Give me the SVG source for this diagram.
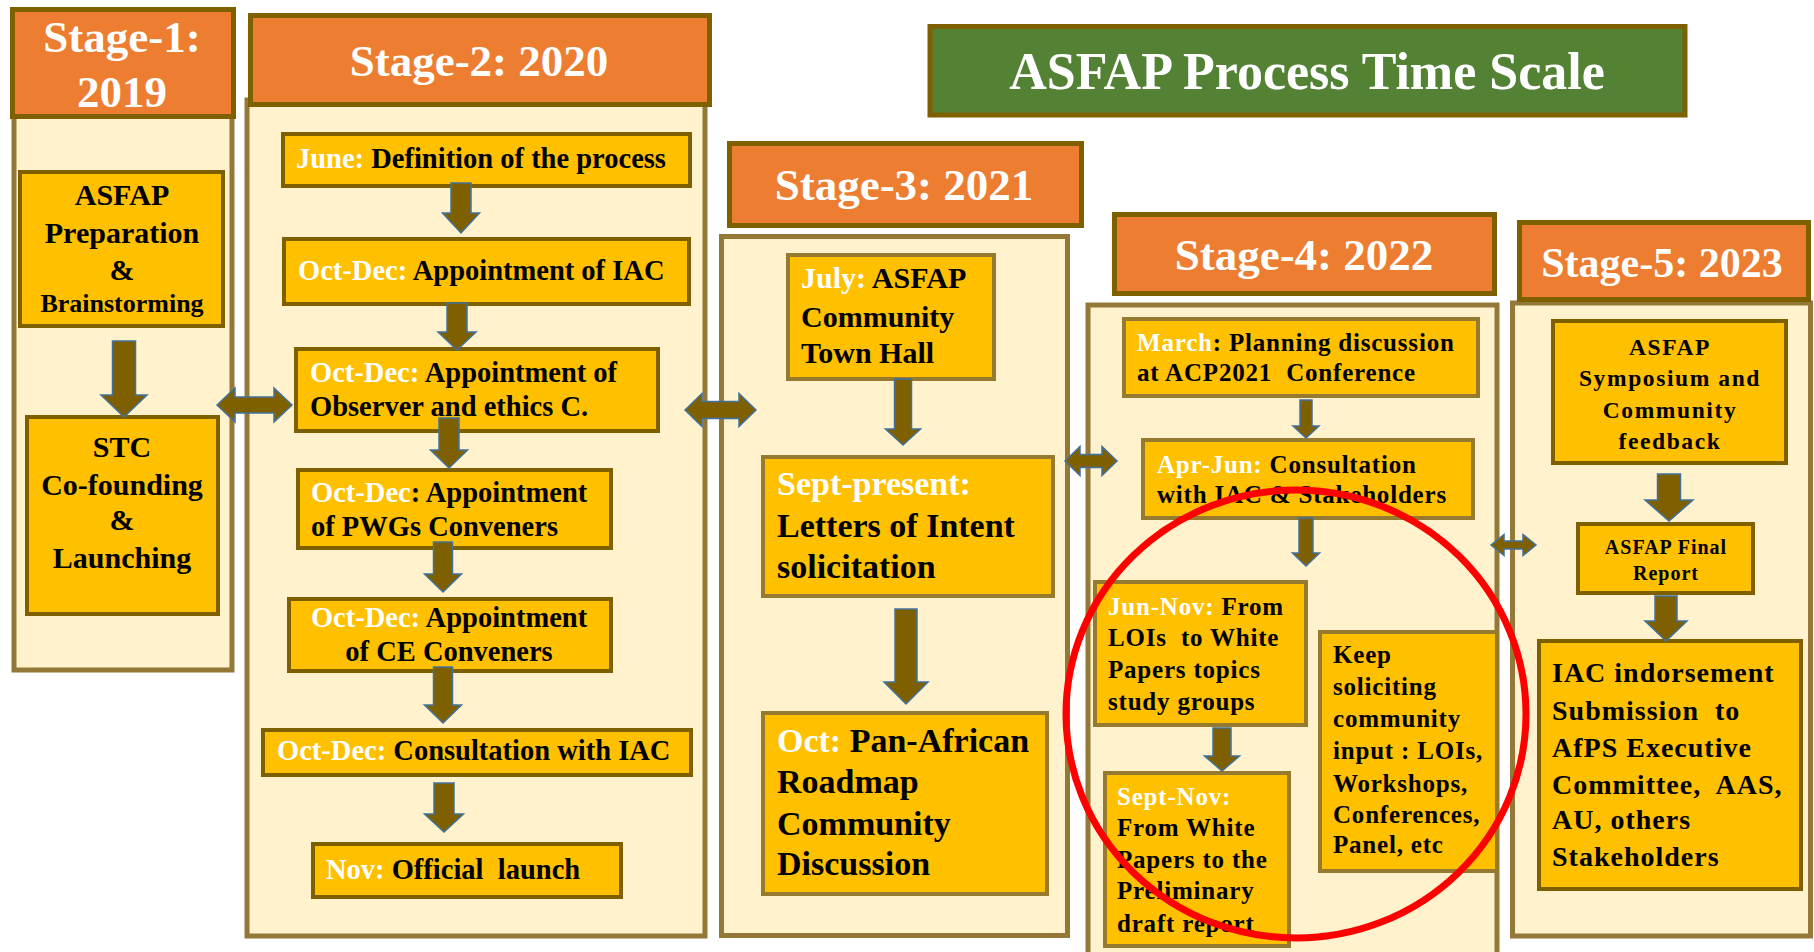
<svg xmlns="http://www.w3.org/2000/svg" width="1814" height="952" viewBox="0 0 1814 952">
<style>
.hdr{fill:#ED7D31;stroke:#7F6000;stroke-width:5}
.body{fill:#FFF2CC;stroke:#937838;stroke-width:5}
.box{fill:#FFC000;stroke:#7F6000;stroke-width:4}
.box2{fill:#FFC000;stroke:#957A30;stroke-width:4}
.ttl{fill:#548235;stroke:#7F6000;stroke-width:5}
.arr{fill:#7F6000;stroke:#41719C;stroke-width:1.5}
text{font-family:"Liberation Serif","Times New Roman",serif;font-weight:bold;fill:#000}
.w{fill:#FFFFFF}
.h{font-size:45px;fill:#FFFFFF;text-anchor:middle}
.s1{font-size:30px;text-anchor:middle}
.s2{font-size:28.5px}
.s3a{font-size:30px}
.s3b{font-size:34px}
.s4{font-size:25px;letter-spacing:0.8px}
.s5a{font-size:23.5px;letter-spacing:1.6px;text-anchor:middle}
.s5b{font-size:20px;letter-spacing:1px;text-anchor:middle}
.s5c{font-size:28px;letter-spacing:1px}
</style>
<rect width="1814" height="952" fill="#FFFFFF"/>

<!-- Stage bodies -->
<g id="stage1">
<rect class="body" x="14" y="110" width="218" height="560" stroke-width="4"/>
<rect class="hdr" x="12.5" y="9.5" width="221" height="107"/>
<text class="h" x="122" y="52">Stage-1:</text>
<text class="h" x="122" y="107">2019</text>
</g>
<g id="stage2">
<rect class="body" x="247" y="100" width="458" height="836" stroke-width="6"/>
<rect class="hdr" x="250.5" y="15.5" width="459" height="89"/>
<text class="h" x="479" y="76">Stage-2: 2020</text>
</g>
<g id="stage3">
<rect class="body" x="721.5" y="236.5" width="346" height="699"/>
<rect class="hdr" x="729.5" y="143.5" width="352" height="82"/>
<text class="h" x="904" y="200">Stage-3: 2021</text>
</g>
<g id="stage4">
<rect class="body" x="1088" y="305" width="409" height="660"/>
<rect class="hdr" x="1114.5" y="214.5" width="380" height="79"/>
<text class="h" x="1304" y="270">Stage-4: 2022</text>
</g>
<g id="stage5">
<rect class="body" x="1512.5" y="303" width="298" height="633"/>
<rect class="hdr" x="1519.5" y="222.5" width="289" height="77"/>
<text class="h" x="1662" y="277" style="font-size:42px">Stage-5: 2023</text>
</g>
<g id="title">
<rect class="ttl" x="930" y="26.5" width="755" height="88.5"/>
<text x="1307" y="89" style="font-size:52px;fill:#FFFFFF;text-anchor:middle">ASFAP Process Time Scale</text>
</g>

<!-- Stage 1 nodes -->
<g id="n-prep">
<rect class="box" x="20" y="172" width="203" height="154"/>
<text class="s1" x="122" y="205">ASFAP</text>
<text class="s1" x="122" y="243">Preparation</text>
<text class="s1" x="122" y="280">&amp;</text>
<text class="s1" x="122" y="312" style="font-size:26px">Brainstorming</text>
</g>
<g id="n-stc">
<rect class="box" x="27" y="417" width="191" height="197"/>
<text class="s1" x="122" y="457">STC</text>
<text class="s1" x="122" y="495">Co-founding</text>
<text class="s1" x="122" y="530">&amp;</text>
<text class="s1" x="122" y="568">Launching</text>
</g>

<!-- Stage 2 nodes -->
<g id="n-june">
<rect class="box" x="283" y="134" width="407" height="52"/>
<text class="s2" x="296" y="168"><tspan class="w">June:</tspan> Definition of the process</text>
</g>
<g id="n-iac">
<rect class="box" x="284" y="239" width="405" height="65"/>
<text class="s2" x="298" y="280"><tspan class="w">Oct-Dec:</tspan> Appointment of IAC</text>
</g>
<g id="n-observer">
<rect class="box" x="296" y="349" width="362" height="82"/>
<text class="s2" x="310" y="382"><tspan class="w">Oct-Dec:</tspan> Appointment of</text>
<text class="s2" x="310" y="416">Observer and ethics C.</text>
</g>
<g id="n-pwgs">
<rect class="box" x="298" y="470" width="313" height="78"/>
<text class="s2" x="311" y="502"><tspan class="w">Oct-Dec</tspan>: Appointment</text>
<text class="s2" x="311" y="536">of PWGs Conveners</text>
</g>
<g id="n-ce">
<rect class="box" x="289" y="599" width="322" height="72"/>
<text class="s2" x="449" y="627" text-anchor="middle"><tspan class="w">Oct-Dec:</tspan> Appointment</text>
<text class="s2" x="449" y="661" text-anchor="middle">of CE Conveners</text>
</g>
<g id="n-consult">
<rect class="box" x="263" y="730" width="428" height="45"/>
<text class="s2" x="277" y="760"><tspan class="w">Oct-Dec:</tspan> Consultation with IAC</text>
</g>
<g id="n-nov">
<rect class="box" x="313" y="844" width="308" height="53"/>
<text class="s2" x="326" y="879" xml:space="preserve"><tspan class="w">Nov:</tspan> Official  launch</text>
</g>

<!-- Stage 3 nodes -->
<g id="n-july">
<rect class="box2" x="788" y="255" width="206" height="124"/>
<text class="s3a" x="801" y="288"><tspan class="w">July:</tspan> ASFAP</text>
<text class="s3a" x="801" y="327">Community</text>
<text class="s3a" x="801" y="363">Town Hall</text>
</g>
<g id="n-sept">
<rect class="box2" x="763" y="457" width="290" height="139"/>
<text class="s3b w" x="777" y="495">Sept-present:</text>
<text class="s3b" x="777" y="537">Letters of Intent</text>
<text class="s3b" x="777" y="578">solicitation</text>
</g>
<g id="n-oct">
<rect class="box2" x="763" y="713" width="284" height="181"/>
<text class="s3b" x="777" y="752"><tspan class="w">Oct:</tspan> Pan-African</text>
<text class="s3b" x="777" y="793">Roadmap</text>
<text class="s3b" x="777" y="835">Community</text>
<text class="s3b" x="777" y="875">Discussion</text>
</g>

<!-- Stage 4 nodes -->
<g id="n-march">
<rect class="box2" x="1124" y="319" width="354" height="77"/>
<text class="s4" x="1137" y="351"><tspan class="w">March</tspan>: Planning discussion</text>
<text class="s4" x="1137" y="381" xml:space="preserve">at ACP2021  Conference</text>
</g>
<g id="n-aprjun">
<rect class="box2" x="1143" y="440" width="330" height="78"/>
<text class="s4" x="1157" y="473"><tspan class="w">Apr-Jun:</tspan> Consultation</text>
<text class="s4" x="1157" y="503">with IAC &amp; Stakeholders</text>
</g>
<g id="n-junnov">
<rect class="box2" x="1095" y="582" width="211" height="143"/>
<text class="s4" x="1108" y="615"><tspan class="w">Jun-Nov:</tspan> From</text>
<text class="s4" x="1108" y="646" xml:space="preserve">LOIs  to White</text>
<text class="s4" x="1108" y="678">Papers topics</text>
<text class="s4" x="1108" y="710">study groups</text>
</g>
<g id="n-septnov">
<rect class="box2" x="1105" y="773" width="184" height="173"/>
<text class="s4 w" x="1117" y="805">Sept-Nov:</text>
<text class="s4" x="1117" y="836">From White</text>
<text class="s4" x="1117" y="868">Papers to the</text>
<text class="s4" x="1117" y="899">Preliminary</text>
<text class="s4" x="1117" y="932">draft report</text>
</g>
<g id="n-keep">
<rect class="box2" x="1320" y="632" width="177" height="239"/>
<text class="s4" x="1333" y="663">Keep</text>
<text class="s4" x="1333" y="695">soliciting</text>
<text class="s4" x="1333" y="727">community</text>
<text class="s4" x="1333" y="759">input : LOIs,</text>
<text class="s4" x="1333" y="792">Workshops,</text>
<text class="s4" x="1333" y="823">Conferences,</text>
<text class="s4" x="1333" y="853">Panel, etc</text>
</g>

<!-- Stage 5 nodes -->
<g id="n-symposium">
<rect class="box" x="1553" y="321" width="233" height="142"/>
<text class="s5a" x="1670" y="355">ASFAP</text>
<text class="s5a" x="1670" y="386">Symposium and</text>
<text class="s5a" x="1670" y="418">Community</text>
<text class="s5a" x="1670" y="449">feedback</text>
</g>
<g id="n-final">
<rect class="box" x="1578" y="524" width="175" height="69"/>
<text class="s5b" x="1666" y="554">ASFAP Final</text>
<text class="s5b" x="1666" y="580">Report</text>
</g>
<g id="n-endorse">
<rect class="box" x="1539" y="641" width="262" height="248"/>
<text class="s5c" x="1552" y="682">IAC indorsement</text>
<text class="s5c" x="1552" y="720" xml:space="preserve">Submission  to</text>
<text class="s5c" x="1552" y="757">AfPS Executive</text>
<text class="s5c" x="1552" y="794" xml:space="preserve">Committee,  AAS,</text>
<text class="s5c" x="1552" y="829">AU, others</text>
<text class="s5c" x="1552" y="866">Stakeholders</text>
</g>

<!-- Connectors -->
<g id="connectors">
<!-- stage 1 -->
<polygon class="arr" points="112.5,341 135.5,341 135.5,395 147,395 124,417 101,395 112.5,395"/>
<!-- stage 2 -->
<polygon class="arr" points="451,183 471,183 471,213 479.5,213 461,233 442.5,213 451,213"/>
<polygon class="arr" points="447,303 467,303 467,332 476,332 457,350 438,332 447,332"/>
<polygon class="arr" points="439,418 459,418 459,450 467.5,450 449,468 430.5,450 439,450"/>
<polygon class="arr" points="433.5,542 452.5,542 452.5,574 461.5,574 443,592 424.5,574 433.5,574"/>
<polygon class="arr" points="433.5,667 452.5,667 452.5,705 461.5,705 443,723 424.5,705 433.5,705"/>
<polygon class="arr" points="434,783 454,783 454,814 463.5,814 444,832 424.5,814 434,814"/>
<!-- stage 3 -->
<polygon class="arr" points="894.5,379 911.5,379 911.5,429 920.5,429 903,445 885.5,429 894.5,429"/>
<polygon class="arr" points="895,609 917,609 917,682 928,682 906,704 884,682 895,682"/>
<!-- stage 4 -->
<polygon class="arr" points="1300,400 1312,400 1312,426 1319,426 1306,438 1293,426 1300,426"/>
<polygon class="arr" points="1299,518 1313,518 1313,553 1319.5,553 1306,566 1292.5,553 1299,553"/>
<polygon class="arr" points="1213,728 1231,728 1231,756 1239.5,756 1222,771 1204.5,756 1213,756"/>
<!-- stage 5 -->
<polygon class="arr" points="1657.5,474 1680.5,474 1680.5,500 1693,500 1669,521 1645,500 1657.5,500"/>
<polygon class="arr" points="1655,596 1677,596 1677,621 1687,621 1666,641 1645,621 1655,621"/>
<!-- between stages -->
<polygon class="arr" points="217,405 235,388 235,397 274,397 274,388 292,405 274,422 274,413 235,413 235,422"/>
<polygon class="arr" points="685,410 702,393.5 702,401.5 739,401.5 739,393.5 756,410 739,426.5 739,418.5 702,418.5 702,426.5"/>
<polygon class="arr" points="1065,461 1080,446.5 1080,454.5 1102,454.5 1102,446.5 1117,461 1102,475.5 1102,467.5 1080,467.5 1080,475.5"/>
<polygon class="arr" points="1491,545 1504,534.5 1504,541 1523,541 1523,534.5 1536,545 1523,555.5 1523,549 1504,549 1504,555.5"/>
</g>

<ellipse cx="1296" cy="714" rx="230" ry="224" fill="none" stroke="#FF0000" stroke-width="7"/>
</svg>
